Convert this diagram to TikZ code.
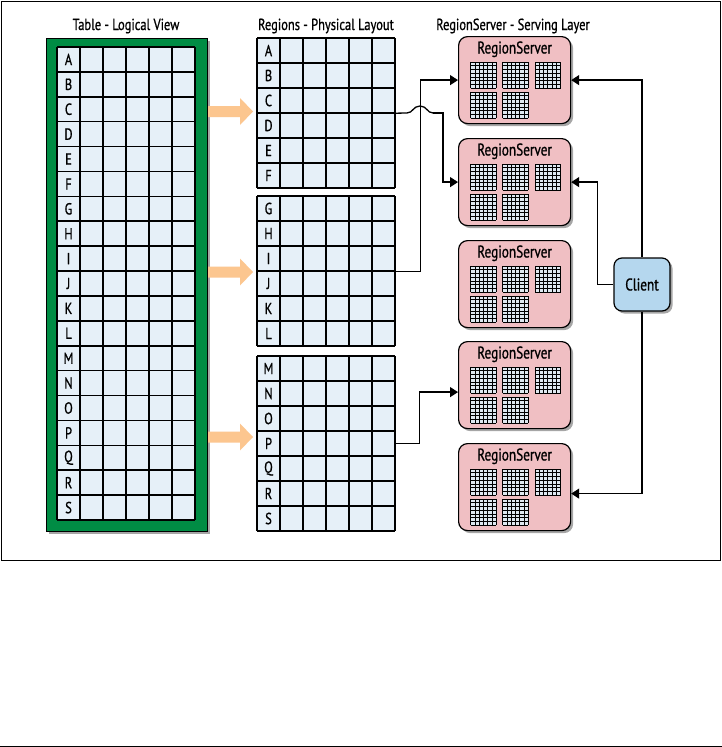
\documentclass[tikz,border=0pt]{standalone}
\usepackage{fontspec}
\setmainfont{PT Sans}[FakeStretch=0.78, FakeBold=0.8]
\usetikzlibrary{shadows,arrows.meta,calc}
\definecolor{tgreen}{RGB}{0,140,68}
\definecolor{cellblue}{RGB}{230,240,248}
\definecolor{rspink}{RGB}{240,191,195}
\definecolor{clientblue}{RGB}{181,215,238}
\definecolor{arrorange}{RGB}{252,198,143}
\definecolor{minifill}{RGB}{222,232,240}
\tikzset{
  gridln/.style={line width=1.6pt, draw=black},
  lettertext/.style={font=\fontsize{16}{18}\selectfont, inner sep=0pt},
  titletext/.style={font=\fontsize{16}{18}\selectfont, inner sep=0pt, anchor=base},
  myshadow/.style={drop shadow={shadow xshift=2.5pt, shadow yshift=-2.5pt, fill=black, opacity=0.35}},
  rsbox/.style={draw=black, line width=1.2pt, fill=rspink, rounded corners=9pt,
    minimum width=112pt, minimum height=87pt, inner sep=0pt, myshadow},
  rstitle/.style={font=\fontsize{17}{18}\selectfont, inner sep=0pt, anchor=base},
  clientbox/.style={draw=black, line width=1.2pt, fill=clientblue, rounded corners=8pt,
    minimum width=56pt, minimum height=53pt, inner sep=0pt, myshadow,
    font=\fontsize{17}{18}\selectfont},
  conn/.style={line width=1.3pt, -{Triangle[length=8pt,width=10pt]}},
  plainconn/.style={line width=1.3pt},
  orangearrow/.style={fill=arrorange},
  minigridln/.style={line width=0.7pt, draw=black},
  groupbox/.style={inner sep=0pt, minimum width=138pt, anchor=north west},
}
\newcommand{\minigrid}[2]{%
  \fill[minifill] (#1,#2) rectangle ++(25.5,26);
  \foreach \k in {0,...,6}{\draw[minigridln] ({#1+\k*4.25},#2) -- ++(0,26);}
  \foreach \k in {0,...,7}{\draw[minigridln] (#1,{#2+\k*26/7}) -- ++(25.5,0);}
}
\newcommand{\regiongroup}[4]{% name, top, rows, letter list
  \node[groupbox, minimum height={#3*25pt}] (#1) at (257,#2) {};
  \fill[cellblue] (257,#2) rectangle (395,{#2+#3*25});
  \foreach \k in {0,...,6}{\draw[gridln] ({257+\k*23},#2) -- ({257+\k*23},{#2+#3*25});}
  \foreach \k in {0,...,#3}{\draw[gridln] (257,{#2+\k*25}) -- (395,{#2+\k*25});}
  \foreach \L [count=\n from 0] in {#4}{%
    \node[lettertext] (#1-\L) at (268.5,{#2+\n*25+12.5}) {\L};}
}
\newcommand{\regionserver}[2]{% name, top
  \node[rsbox, anchor=north west] (#1) at (458,#2) {};
  \node[rstitle] (#1-title) at ($(#1.north)+(0,17.5)$) {RegionServer};
  \minigrid{470.7}{#2+26}
  \minigrid{502.7}{#2+26}
  \minigrid{535}{#2+26}
  \minigrid{470.7}{#2+56}
  \minigrid{502.7}{#2+56}
}
\begin{document}
\begin{tikzpicture}[x=1pt,y=-1pt]
\useasboundingbox (0,0) rectangle (722,747);
\fill[white] (0,0) rectangle (722,747);
\draw[line width=1pt] (1,1) rectangle (720,560);
\draw[line width=1pt] (0,746) -- (722,746);

% titles
\node[titletext] (t1) at (126,30) {Table - Logical View};
\node[titletext] (t2) at (326,30) {Regions - Physical Layout};
\node[titletext] (t3) at (513,30) {RegionServer - Serving Layer};

% logical table
\node[draw=black, line width=0.8pt, fill=tgreen, minimum width=161pt, minimum height=493pt,
  inner sep=0pt, anchor=north west, myshadow] (tbl) at (46,38) {};
\fill[cellblue] (57,47) rectangle (195,520);
\foreach \k in {0,...,6}{\draw[gridln] ({57+\k*23},47) -- ({57+\k*23},520);}
\foreach \k in {0,...,19}{\draw[gridln] (57,{47+\k*473/19}) -- (195,{47+\k*473/19});}
\foreach \L [count=\n from 0] in {A,B,C,D,E,F,G,H,I,J,K,L,M,N,O,P,Q,R,S}{%
  \node[lettertext] (tbl-\L) at (68.5,{47+\n*473/19+473/38}) {\L};}

% orange arrows
\foreach \c in {111.5,272,437}{%
  \fill[orangearrow] (208,\c-5.5) -- (240,\c-5.5) -- (240,\c-13.5) -- (253,\c)
    -- (240,\c+13.5) -- (240,\c+5.5) -- (208,\c+5.5) -- cycle;}

% region groups
\regiongroup{g1}{38}{6}{A,B,C,D,E,F}
\regiongroup{g2}{196}{6}{G,H,I,J,K,L}
\regiongroup{g3}{356}{7}{M,N,O,P,Q,R,S}

% region servers
\regionserver{rs1}{36}
\regionserver{rs2}{138}
\regionserver{rs3}{240}
\regionserver{rs4}{341}
\regionserver{rs5}{443}

% client
\node[clientbox] (client) at (642,284.5) {Client};

% connectors
\coordinate (hopA) at (407,113);
\coordinate (hopB) at (433,113);
\draw[conn] (g2.east) -- ++(25,0) |- (rs1.west);
\draw[plainconn] (g1.east) -- (hopA) .. controls (413,113) and (413,106) .. (420,106)
   .. controls (427,106) and (427,113) .. (hopB);
\draw[conn] (hopB) -| ($(hopB)+(10,0)$) |- (rs2.west);
\draw[conn] (g3.east) -- ++(24,0) |- ($(rs4.west)+(0,7)$);
\draw[conn] (client.north) |- (rs1.east);
\draw[conn] (client.west) -- ++(-16,0) |- (rs2.east);
\draw[conn] (client.south) |- ($(rs5.east)+(0,6.5)$);
\end{tikzpicture}
\end{document}
